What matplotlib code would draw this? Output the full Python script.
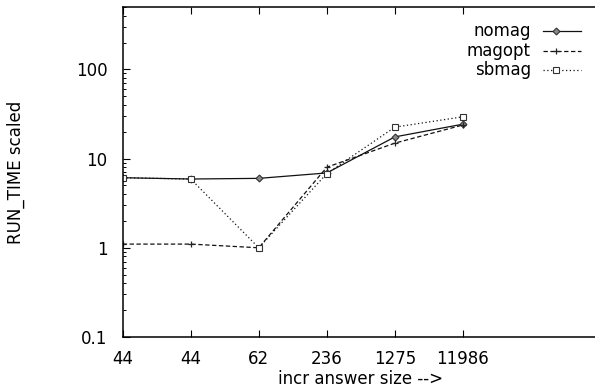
import matplotlib
matplotlib.use("Agg")
import matplotlib.pyplot as plt
from matplotlib.lines import Line2D
from matplotlib.ticker import LogLocator, FixedLocator, NullFormatter

plt.rcParams['font.family'] = ['DejaVu Sans']

categories = ["44", "44", "62", "236", "1275", "11986"]
nomag = [6.1, 5.9, 6.0, 6.9, 17.5, 24.3]
magopt = [1.1, 1.1, 1.0, 8.0, 14.9, 23.8]
sbmag = [6.1, 5.9, 1.0, 6.8, 22.5, 29.4]
series_names = ["nomag", "magopt", "sbmag"]

W, H = 595, 389
fig = plt.figure(figsize=(W / 100, H / 100), dpi=100)
left, right, bottom, top = 122.7, 599, 337, 7
ax = fig.add_axes([left / W, 1 - bottom / H, (right - left) / W, (bottom - top) / H])

x = list(range(len(categories)))
styles = [
    dict(ls='-', marker='D', ms=3.5, mfc='#888888', mec='#333333', mew=0.8),
    dict(ls=(0, (3.5, 2)), marker='+', ms=5, mec='#222222', mew=0.9),
    dict(ls=(0, (1, 2)), marker='s', ms=4.5, mfc='white', mec='#333333', mew=0.8),
]
for ys, st in zip([nomag, magopt, sbmag], styles):
    ax.plot(x, ys, color='#111111', lw=0.9, **st)

ax.set_yscale('log')
ax.set_ylim(0.1, 500)
ax.set_xlim(0, 7)
ax.set_xticks(x)
ax.set_xticklabels(categories)
ax.yaxis.set_major_locator(FixedLocator([0.1, 1, 10, 100]))
ax.set_yticklabels(["0.1", "1", "10", "100"])
ax.yaxis.set_minor_locator(LogLocator(base=10, subs=range(2, 10), numticks=20))
ax.yaxis.set_minor_formatter(NullFormatter())

for s in ['left', 'bottom', 'top']:
    ax.spines[s].set_linewidth(1.1)
ax.spines['right'].set_visible(False)

fs = 12
ax.tick_params(axis='x', which='major', direction='in', top=True, length=5, width=0.8,
               pad=9.5, labelsize=fs)
ax.tick_params(axis='y', which='major', direction='in', length=5, width=0.8,
               pad=11, labelsize=fs, right=False)
ax.tick_params(axis='y', which='minor', direction='in', length=2.5, width=0.7, right=False)

ax.set_xlabel("incr answer size -->", fontsize=fs, va='center')
ax.xaxis.set_label_coords(0.5, -(379.5 - bottom) / (bottom - top))
ax.set_ylabel("RUN_TIME scaled", fontsize=fs)
ax.yaxis.set_label_coords((16 - left) / (right - left), 0.5)
ax.yaxis.label.set_va('center')

# legend drawn in figure pixel space
rows_y = [31, 51, 70]
for name, st, ry in zip(series_names, styles, rows_y):
    fy = 1 - ry / H
    fig.text(531 / W, fy, name, ha='right', va='center', fontsize=fs)
    fig.add_artist(Line2D([543 / W, 581 / W], [fy, fy], color='#111111', lw=0.9,
                          ls=st['ls'], transform=fig.transFigure))
    fig.add_artist(Line2D([556 / W], [fy], color='#111111', lw=0, marker=st['marker'],
                          transform=fig.transFigure,
                          **{k: v for k, v in st.items() if k not in ('ls', 'marker')}))

fig.savefig("out.png", dpi=100)
